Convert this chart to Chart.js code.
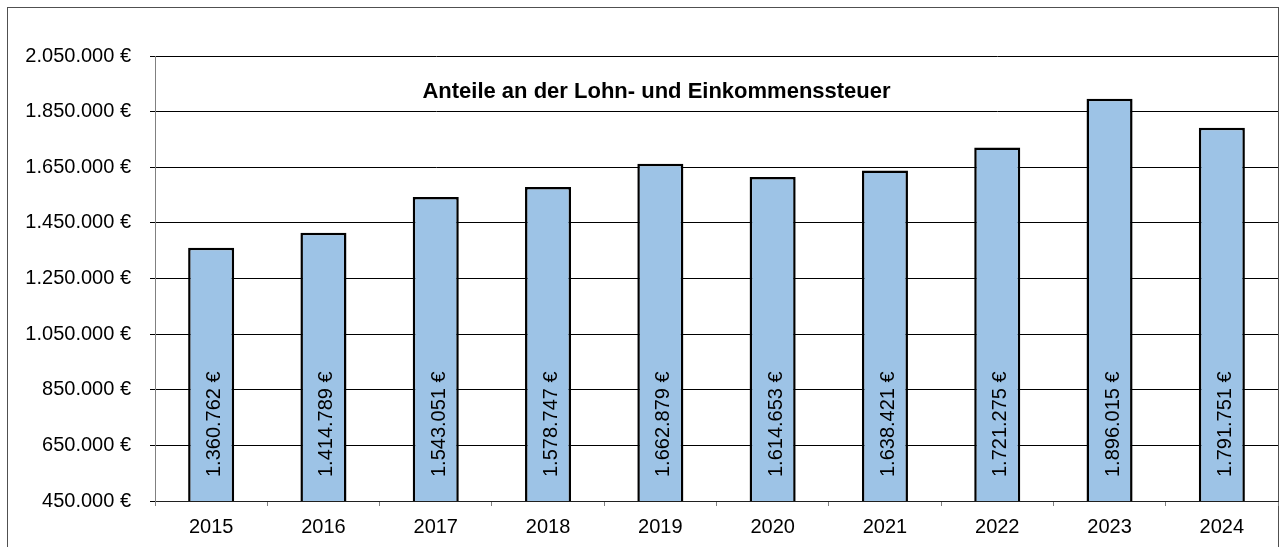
<!DOCTYPE html>
<html>
<head>
<meta charset="utf-8">
<script src="https://cdn.jsdelivr.net/npm/chart.js@4/dist/chart.umd.min.js"></script>
<style>
  html, body { margin: 0; padding: 0; background: #fff; }
  canvas { display: block; }
</style>
</head>
<body>
<canvas id="c" width="1284" height="547"></canvas>
<script>
const years = ['2015','2016','2017','2018','2019','2020','2021','2022','2023','2024'];
const amounts = [1360762, 1414789, 1543051, 1578747, 1662879, 1614653, 1638421, 1721275, 1896015, 1791751];
const yTickValues = [450000, 650000, 850000, 1050000, 1250000, 1450000, 1650000, 1850000, 2050000];
const chartTitle = 'Anteile an der Lohn- und Einkommenssteuer';

const FONT = '"Liberation Sans", Arial, sans-serif';
function fmt(n) {
  return String(Math.round(n)).replace(/\B(?=(\d{3})+(?!\d))/g, '.') + ' €';
}

const framePlugin = {
  id: 'frame',
  beforeDraw(chart) {
    const ctx = chart.ctx;
    ctx.save();
    ctx.fillStyle = '#fff';
    ctx.fillRect(0, 0, chart.width, chart.height);
    ctx.strokeStyle = '#505050';
    ctx.lineWidth = 1;
    ctx.strokeRect(7.5, 7.5, 1271, 600);
    ctx.restore();
  }
};

const titlePlugin = {
  id: 'innerTitle',
  afterDraw(chart) {
    const ctx = chart.ctx;
    ctx.save();
    ctx.font = 'bold 22px ' + FONT;
    ctx.fillStyle = '#000';
    ctx.textAlign = 'center';
    ctx.textBaseline = 'alphabetic';
    ctx.fillText(chartTitle, 656.5, 98);
    ctx.restore();
  }
};

const valueLabelPlugin = {
  id: 'valueLabels',
  afterDatasetsDraw(chart) {
    const ctx = chart.ctx;
    const meta = chart.getDatasetMeta(0);
    const yBase = chart.chartArea.bottom - 24;
    ctx.save();
    ctx.font = '20px ' + FONT;
    ctx.fillStyle = '#000';
    meta.data.forEach((bar, i) => {
      ctx.save();
      ctx.translate(bar.x + 9, yBase);
      ctx.rotate(-Math.PI / 2);
      ctx.textAlign = 'left';
      ctx.textBaseline = 'alphabetic';
      ctx.fillText(fmt(amounts[i]), 0, 0);
      ctx.restore();
    });
    ctx.restore();
  }
};

new Chart(document.getElementById('c'), {
  type: 'bar',
  data: {
    labels: years,
    datasets: [{
      data: amounts,
      backgroundColor: '#9DC3E6',
      borderColor: '#000',
      borderWidth: 2.5,
      borderSkipped: false,
      barPercentage: 0.41,
      categoryPercentage: 1.0
    }]
  },
  options: {
    responsive: false,
    devicePixelRatio: 1,
    animation: false,
    layout: { padding: { left: 0, top: 56, right: 6, bottom: 0 } },
    plugins: {
      legend: { display: false },
      title: { display: false },
      tooltip: { enabled: false }
    },
    scales: {
      x: {
        offset: true,
        grid: {
          offset: true,
          drawOnChartArea: false,
          drawTicks: true,
          tickLength: 5,
          color: '#808080',
          tickColor: '#808080'
        },
        border: { display: true, color: '#202020', width: 1 },
        ticks: {
          font: { family: FONT, size: 20 },
          color: '#000',
          padding: 9,
          maxRotation: 0
        },
        afterFit(scale) { scale.height = 46; }
      },
      y: {
        min: 450000,
        max: 2050000,
        afterBuildTicks(scale) {
          scale.ticks = yTickValues.map(v => ({ value: v }));
        },
        grid: {
          color: '#000',
          lineWidth: 1,
          drawTicks: true,
          tickLength: 5,
          tickColor: '#000'
        },
        border: { display: true, color: '#808080', width: 1 },
        ticks: {
          font: { family: FONT, size: 20 },
          color: '#000',
          padding: 19,
          callback: (v) => fmt(v)
        },
        afterFit(scale) { scale.width = 155; }
      }
    }
  },
  plugins: [framePlugin, titlePlugin, valueLabelPlugin]
});
</script>
</body>
</html>
